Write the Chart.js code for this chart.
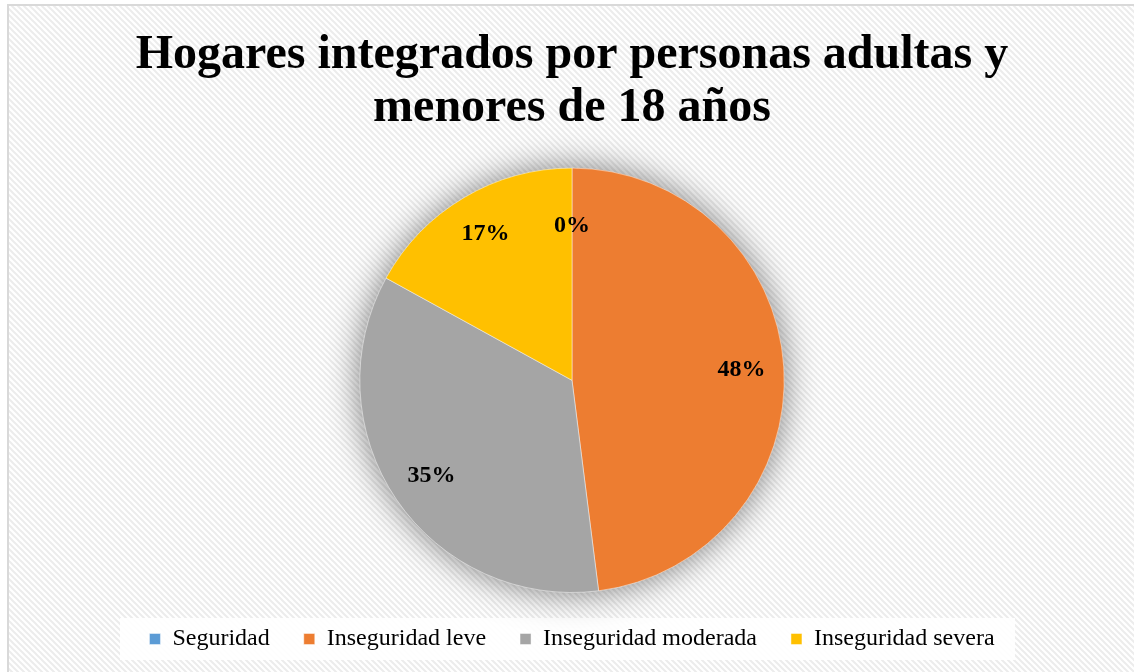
<!DOCTYPE html>
<html>
<head>
<meta charset="utf-8">
<script src="https://cdn.jsdelivr.net/npm/chart.js@4/dist/chart.umd.min.js"></script>
<style>
html,body{margin:0;padding:0;background:#fff;}
#wrap{width:1134px;height:672px;position:relative;}
</style>
</head>
<body>
<div id="wrap"><canvas id="c" width="1134" height="672"></canvas></div>
<script>
const titleLines = ['Hogares integrados por personas adultas y', 'menores de 18 años'];
const categories = ['Seguridad', 'Inseguridad leve', 'Inseguridad moderada', 'Inseguridad severa'];
const values = [0, 48, 35, 17];
const colors = ['#5B9BD5', '#ED7D31', '#A5A5A5', '#FFC000'];

const SERIF = "'Liberation Serif', 'Times New Roman', serif";

function makePattern(ctx) {
  const p = document.createElement('canvas');
  p.width = 6; p.height = 6;
  const g = p.getContext('2d');
  g.fillStyle = '#ffffff';
  g.fillRect(0, 0, 6, 6);
  g.strokeStyle = '#ececec';
  g.lineWidth = 2;
  g.beginPath();
  g.moveTo(-1, -1); g.lineTo(7, 7);
  g.moveTo(-7, -1); g.lineTo(1, 7);
  g.moveTo(5, -1); g.lineTo(13, 7);
  g.stroke();
  return ctx.createPattern(p, 'repeat');
}

const bgPlugin = {
  id: 'bg',
  beforeDraw(chart) {
    const ctx = chart.ctx;
    ctx.save();
    ctx.fillStyle = '#ffffff';
    ctx.fillRect(0, 0, chart.width, chart.height);
    ctx.fillStyle = makePattern(ctx);
    ctx.fillRect(8, 5, chart.width - 8, chart.height - 5);
    ctx.strokeStyle = '#d9d9d9';
    ctx.lineWidth = 2;
    ctx.beginPath();
    ctx.moveTo(8, chart.height); ctx.lineTo(8, 5); ctx.lineTo(chart.width, 5);
    ctx.stroke();
    // legend backdrop
    const lg = chart.legend;
    if (lg && lg.legendHitBoxes && lg.legendHitBoxes.length) {
      const cy = lg.legendHitBoxes[0].top + lg.legendHitBoxes[0].height / 2;
      ctx.fillStyle = 'rgba(255,255,255,0.9)';
      ctx.fillRect(120, cy - 21, 895, 42);
    }
    ctx.restore();
  },
  beforeDatasetsDraw(chart) {
    const arc = chart.getDatasetMeta(0).data[0];
    if (!arc) return;
    const ctx = chart.ctx;
    ctx.save();
    ctx.shadowColor = 'rgba(0,0,0,0.5)';
    ctx.shadowBlur = 34;
    ctx.fillStyle = '#bbbbbb';
    ctx.beginPath();
    ctx.arc(arc.x, arc.y, arc.outerRadius, 0, Math.PI * 2);
    ctx.fill();
    ctx.restore();
  },
  afterDatasetsDraw(chart) {
    const meta = chart.getDatasetMeta(0);
    const ctx = chart.ctx;
    const total = values.reduce((a, b) => a + b, 0);
    ctx.save();
    ctx.font = 'bold 24px ' + SERIF;
    ctx.fillStyle = '#000';
    ctx.textAlign = 'center';
    ctx.textBaseline = 'middle';
    meta.data.forEach((a, i) => {
      const mid = (a.startAngle + a.endAngle) / 2;
      const r = a.outerRadius * (values[i] === 0 ? 0.73 : 0.8);
      const x = a.x + Math.cos(mid) * r;
      const y = a.y + Math.sin(mid) * r;
      ctx.fillText(Math.round(values[i] / total * 100) + '%', x, y);
    });
    ctx.restore();
  }
};

new Chart(document.getElementById('c'), {
  type: 'pie',
  data: {
    labels: categories,
    datasets: [{
      data: values,
      backgroundColor: colors,
      borderColor: 'rgba(255,255,255,0.45)',
      borderWidth: 1
    }]
  },
  options: {
    responsive: false,
    animation: false,
    layout: { padding: { left: 10, right: 0, top: 0, bottom: 11 } },
    plugins: {
      tooltip: { enabled: false },
      title: {
        display: true,
        text: titleLines,
        color: '#000',
        font: { family: SERIF, size: 48, weight: 'bold', lineHeight: 1.1 },
        padding: { top: 29, bottom: 33 }
      },
      legend: {
        position: 'bottom',
        labels: {
          color: '#000',
          font: { family: SERIF, size: 24 },
          boxWidth: 11,
          boxHeight: 11,
          padding: 34
        }
      }
    }
  },
  plugins: [bgPlugin]
});
</script>
</body>
</html>
